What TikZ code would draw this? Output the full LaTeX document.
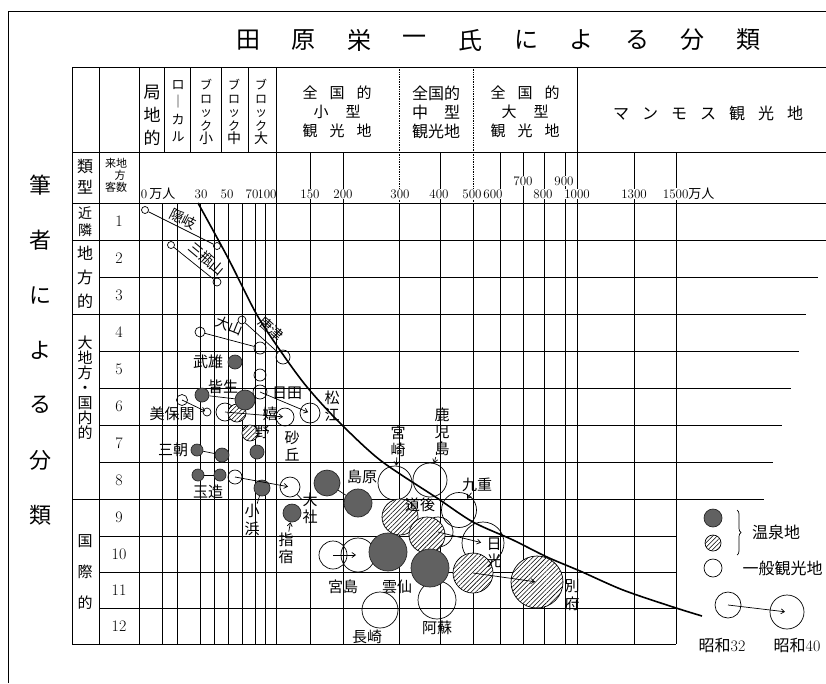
\documentclass[tikz,border=0pt]{standalone}
\usepackage{fontspec}
\usepackage{tikz}
\usetikzlibrary{arrows.meta, patterns.meta, decorations.pathreplacing}
\newfontfamily\jp{Noto Sans CJK JP}
\newcommand{\fsz}[1]{\fontsize{#1}{1.15\dimexpr #1pt\relax}\selectfont}
\newcommand{\fsl}[2]{\fontsize{#1}{#2}\selectfont}

\tikzset{
    onsen/.style={circle, draw=black!85, fill=black!62, inner sep=0pt, minimum size=#1},
    hatched/.style={circle, draw, fill=white, inner sep=0pt, minimum size=#1,
        postaction={pattern={Lines[angle=45, distance=3.2pt, line width=0.55pt]}}},
    kanko/.style={circle, draw, inner sep=0pt, minimum size=#1},
    place/.style={font=\jp\fsz{15}, inner sep=0.5pt, align=center},
    slant/.style={font=\jp\fsz{14}, inner sep=0pt},
    tick/.style={font=\fsz{13}, fill=white, inner sep=0.6pt},
}

\begin{document}
\begin{tikzpicture}[x=1pt, y=-1pt, line width=0.7pt, >={Straight Barb[length=3.5pt, width=5pt]}]
    \useasboundingbox (0,0) rectangle (826,683);

    % Frame and title
    \draw[line width=0.9pt] (8,683) -- (8,11) -- (826,11);
    \foreach \c [count=\i] in {田,原,栄,一,氏,に,よ,る,分,類}
        \node[font=\jp\fsz{24}] (title\i) at ({248+55.6*(\i-1)},40) {\c};
    \foreach \c [count=\i] in {筆,者,に,よ,る,分,類}
        \node[font=\jp\fsz{22}] (side\i) at (40,{130+55*\i}) {\c};

    % Table lines
    \draw (72,644) -- (72,67) -- (826,67);
    \draw (72,152) -- (826,152);
    \draw (72,203) -- (826,203);
    \foreach \x in {99,139,276,577}
        \draw (\x,67) -- (\x,644);
    \foreach \x in {399,473} {
        \draw[densely dotted] (\x,67) -- (\x,203);
        \draw (\x,203) -- (\x,644);
    }
    \foreach \x in {164,190,221,248}
        \draw (\x,67) -- (\x,152);
    \foreach \x in {310,343,440,500,523,544,565,634,676}
        \draw (\x,152) -- (\x,644);
    \foreach \x in {162,177,200,214,228,242,255,265}
        \draw (\x,203) -- (\x,644);
    \foreach \y/\e in {240/826, 277/818, 314/806, 351/799, 388/791, 425/782, 462/773, 499/764, 536/676, 572/676, 608/676}
        \draw (99,\y) -- (\e,\y);
    \foreach \y in {240,314,499}
        \draw (72,\y) -- (99,\y);
    \draw (72,644) -- (676,644);

    % Header of Tahara's classes
    \node[font=\jp\fsl{17}{23}, align=center] (hKyoku) at (152,115) {局\\地\\的};
    \node[font=\jp\fsl{13}{17.5}, align=center] (hLocal) at (178,111) {ロ\\｜\\カ\\ル};
    \foreach \x/\c in {206/小, 234/中, 261/大}
        \node[font=\jp\fsl{12}{13.5}, align=center] (hBlock\c) at (\x,112) {ブ\\ロ\\ッ\\ク\\{\fsz{14}\c}};
    \node[font=\jp\fsl{15}{19}, align=center] (hSmall) at (337,112)
        {全\hspace{12pt}国\hspace{12pt}的\\小\hspace{17pt}型\\観\hspace{12pt}光\hspace{12pt}地};
    \node[font=\jp\fsl{16}{19}, align=center] (hMiddle) at (436,112)
        {全国的\\中\hspace{16pt}型\\観光地};
    \node[font=\jp\fsl{15}{19}, align=center] (hLarge) at (525,112)
        {全\hspace{12pt}国\hspace{12pt}的\\大\hspace{17pt}型\\観\hspace{12pt}光\hspace{12pt}地};
    \node[font=\jp\fsz{16}] (hMammoth) at (708,113)
        {マ\hspace{13pt}ン\hspace{13pt}モ\hspace{13pt}ス\hspace{13pt}観\hspace{13pt}光\hspace{13pt}地};

    % Axis of visitors
    \node[tick, anchor=west] (ax0) at (140,194) {0\,{\jp 万人}};
    \node[tick, fill=none] (ax100) at (267,194) {100};
    \foreach \x/\v in {201/30, 227/50, 252/70, 310/150, 343/200, 400/300, 439/400, 472/500, 493/600, 543/800, 577/1000, 634/1300}
        \node[tick] (ax\v) at (\x,194) {\v};
    \node[tick, anchor=west] (ax1500) at (662,194) {1500{\jp 万人}};
    \node[tick] (ax700) at (523,181) {700};
    \node[tick] (ax900) at (564,181) {900};

    % Author's classes
    \node[font=\jp\fsl{16}{21}, align=center] (cType) at (85,177) {類\\型};
    \node[font=\jp\fsz{11}] (cVisit1) at (116,163) {来地};
    \node[font=\jp\fsz{11}] (cVisit2) at (120,175) {方};
    \node[font=\jp\fsz{11}] (cVisit3) at (116,187) {客数};
    \node[font=\jp\fsl{14}{17}, align=center] (cNear) at (85,222) {近\\隣};
    \node[font=\jp\fsl{16}{24}, align=center] (cRegion) at (85,277) {地\\方\\的};
    \node[font=\jp\fsl{15}{15}, align=center] (cNation) at (85,388) {大\\地\\方\\・\\国\\内\\的};
    \node[font=\jp\fsl{15}{31}, align=center] (cWorld) at (85,572) {国\\際\\的};
    \foreach \n/\y in {1/221, 2/258, 3/295, 4/332, 5/369, 6/406, 7/443, 8/480, 9/517, 10/554, 11/590, 12/626}
        \node[font=\fsz{16}] (num\n) at (119,\y) {\n};

    % Open circles
    \foreach \n/\x/\y/\d in {okiA/145/210/7, okiB/217/246/7, sanbeA/171/245/7, sanbeB/217/282/8,
            daisenA/200/332/10, daisenB/260/348/12, karatsuA/242/320/8, karatsuB/283/357/14,
            hita/260/375/12, matsueA/260/392/14, matsueB/310/413/20, mihoA/182/400/11, mihoB/207/412/8,
            sakyuA/225/412/18, sakyuB/285/417/18, taishaA/235/477/14, taishaB/290/487/20,
            miyazaki/395/483/34, kagoshima/430/480/34, kuju/459/510/35, nikkoA/438/532/30, nikkoB/483/543/42,
            miyajimaA/333/555/28, miyajimaB/358/555/34, aso/437/600/38, nagasaki/380/610/36}
        \node[kanko=\d] (\n) at (\x,\y) {};

    % Hatched spas
    \foreach \n/\x/\y/\d in {ureshinoA/237/413/18, ureshinoB/250/433/16, dogoA/400/517/36, dogoB/427/535/36,
            beppuA/473/573/40, beppuB/537/582/52}
        \node[hatched=\d] (\n) at (\x,\y) {};

    % Dark spas
    \foreach \n/\x/\y/\d in {takeo/235/362/14, kaikeA/202/395/14, kaikeB/245/400/20, spaX/257/452/14,
            misasaA/197/450/12, misasaB/222/455/14, tamaA/198/475/12, tamaB/220/475/12,
            obama/262/488/16, ibusuki/292/513/18, shimabaraA/327/483/26, shimabaraB/358/503/28,
            unzenA/388/552/38, unzenB/430/568/38}
        \node[onsen=\d] (\n) at (\x,\y) {};

    % Changes from Showa 32 to 40
    \foreach \a/\b in {okiA/okiB, sanbeA/sanbeB, daisenA/daisenB, karatsuA/karatsuB, kaikeA/kaikeB,
            misasaA/misasaB, tamaA/tamaB, shimabaraA/shimabaraB}
        \draw (\a) -- (\b);
    \foreach \a/\b in {matsueA/matsueB, mihoA/mihoB, sakyuA/sakyuB, taishaA/taishaB,
            miyajimaA/miyajimaB, nikkoA/nikkoB, beppuA/beppuB}
        \draw[->, shorten >=2pt] (\a.center) -- (\b.center);

    % Trend curve
    \draw[line width=1.6pt] plot[smooth] coordinates {(198,203) (228,258) (257,315) (284,356) (307,387)
        (337,420) (380,460) (437,498) (473,522) (513,540) (547,557) (580,571) (623,590) (673,607) (702,616)};

    % Place names
    \node[slant, rotate=-27] (tOki) at (183,219) {隠岐};
    \node[slant, rotate=-40] (tSanbe) at (207,259) {三瓶山};
    \node[slant, rotate=-22] (tDaisen) at (229,326) {大山};
    \node[slant, rotate=-42] (tKaratsu) at (271,329) {唐津};
    \node[place] (tTakeo) at (208,362) {武雄};
    \node[place] (tKaike) at (223,387) {皆生};
    \node[place] (tHita) at (287,393) {日田};
    \node[place] (tMiho) at (172,414) {美保関};
    \node[place] (tMatsue) at (332,406) {松\\江};
    \node[place] (tUre1) at (270,414) {嬉};
    \node[place] (tUre2) at (262,432) {野};
    \node[place] (tSakyu) at (292,446) {砂\\丘};
    \node[place] (tMisasa) at (173,450) {三朝};
    \node[place] (tTama) at (208,492) {玉造};
    \node[place] (tObama) at (252,520) {小\\浜};
    \node[place] (tTaisha) at (310,508) {大\\社};
    \node[place] (tIbusuki) at (286,548) {指\\宿};
    \node[place] (tShimabara) at (362,477) {島原};
    \node[place] (tMiyazaki) at (398,441) {宮\\崎};
    \node[place] (tKagoshima) at (442,432) {鹿\\児\\島};
    \node[place] (tKuju) at (477,485) {九重};
    \node[place] (tDogo) at (420,505) {道後};
    \node[place] (tNikko) at (494,553) {日\\光};
    \node[place] (tMiyajima) at (343,587) {宮島};
    \node[place] (tUnzen) at (397,587) {雲仙};
    \node[place] (tBeppu) at (572,595) {別\\府};
    \node[place] (tAso) at (437,628) {阿蘇};
    \node[place] (tNagasaki) at (367,637) {長崎};

    % Leaders
    \draw[->] (tMiyazaki) -- (miyazaki);
    \draw[->] (tKagoshima) -- (kagoshima);
    \draw[->, shorten >=-4pt] (tKuju) -- (kuju);
    \draw[->] (tIbusuki) -- (ibusuki);
    \draw (tObama) -- (obama);
    \draw (tTaisha) -- (taishaB);

    % Legend
    \node[onsen=18] (lgSpa) at (713,518) {};
    \node[hatched=16] (lgHatch) at (713,543) {};
    \node[kanko=18] (lgKanko) at (713,568) {};
    \draw[decorate, decoration={brace, amplitude=4pt}] (737,510) -- (737,555);
    \node[font=\jp\fsz{16}] (lgOnsen) at (776,532) {温泉地};
    \node[font=\jp\fsz{16}, anchor=west] (lgGeneral) at (739,568) {一般観光地};
    \node[kanko=26] (lg32) at (728,605) {};
    \node[kanko=34] (lg40) at (787,612) {};
    \draw[->, shorten >=2pt] (lg32.center) -- (lg40.center);
    \node[font=\fsz{16}] (lgT32) at (722,645) {{\jp 昭和}32};
    \node[font=\fsz{16}] (lgT40) at (797,645) {{\jp 昭和}40};
\end{tikzpicture}
\end{document}
